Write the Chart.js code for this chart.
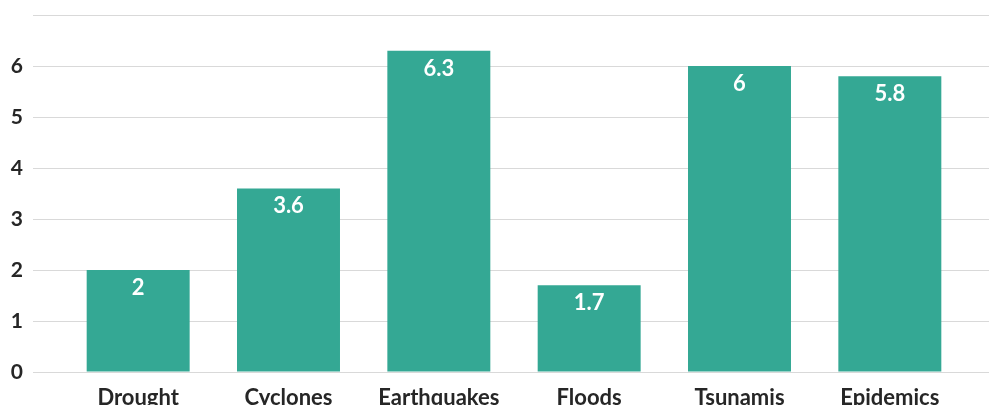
<!DOCTYPE html>
<html>
<head>
<meta charset="utf-8">
<script src="https://cdn.jsdelivr.net/npm/chart.js@4/dist/chart.umd.min.js"></script>
<style>
  html, body { margin: 0; padding: 0; background: #ffffff; }
  #wrap { width: 989px; height: 405px; position: relative; }
</style>
</head>
<body>
<div id="wrap"><canvas id="chart"></canvas></div>
<script>
// Disaster categories and their values
const categories = ['Drought', 'Cyclones', 'Earthquakes', 'Floods', 'Tsunamis', 'Epidemics'];
const values = [2, 3.6, 6.3, 1.7, 6, 5.8];
const yTicks = [0, 1, 2, 3, 4, 5, 6];

const BAR_COLOR = '#34a894';
const GRID_COLOR = '#d9d9d9';
const TEXT_COLOR = '#262626';
const FONT = 'Lato, "Open Sans", sans-serif';

// White value labels inside the top of each bar
const valueLabels = {
  id: 'valueLabels',
  afterDatasetsDraw(chart) {
    const ctx = chart.ctx;
    const meta = chart.getDatasetMeta(0);
    ctx.save();
    ctx.fillStyle = '#ffffff';
    ctx.font = 'bold 22px ' + FONT;
    ctx.textAlign = 'center';
    ctx.textBaseline = 'top';
    meta.data.forEach((bar, i) => {
      ctx.fillText(String(values[i]), bar.x, bar.y + 7);
    });
    ctx.restore();
  }
};

// Vertical axes keep no extra padding above/below the plot
function fixVerticalPadding(scale, width) {
  scale.width = width;
  scale.paddingTop = 0;
  scale.paddingBottom = 0;
}

new Chart(document.getElementById('chart'), {
  type: 'bar',
  data: {
    labels: categories,
    datasets: [{
      data: values,
      backgroundColor: BAR_COLOR,
      borderWidth: 0,
      barPercentage: 1,
      categoryPercentage: 0.685
    }]
  },
  options: {
    responsive: true,
    maintainAspectRatio: false,
    animation: false,
    layout: { padding: { left: 0, right: 0, top: 15, bottom: 0 } },
    plugins: {
      legend: { display: false },
      tooltip: { enabled: false }
    },
    scales: {
      x: {
        grid: { display: false },
        border: { display: false },
        ticks: {
          color: TEXT_COLOR,
          font: { family: FONT, size: 22, weight: 'bold' },
          padding: 5,
          maxRotation: 0
        },
        afterFit(scale) {
          scale.height = 33;
          scale.paddingLeft = 0;
          scale.paddingRight = 0;
        }
      },
      y: {
        min: 0,
        max: 7,
        afterBuildTicks(scale) {
          scale.ticks = yTicks.concat([7]).map(v => ({ value: v }));
        },
        grid: {
          color: GRID_COLOR,
          lineWidth: 1,
          drawTicks: true,
          tickLength: 30,
          tickColor: GRID_COLOR
        },
        border: { display: false },
        ticks: {
          color: TEXT_COLOR,
          font: { family: FONT, size: 21, weight: 'bold' },
          padding: 10,
          callback: v => (yTicks.includes(v) ? String(v) : '')
        },
        afterFit(scale) { fixVerticalPadding(scale, 63); }
      },
      y2: {
        position: 'right',
        min: 0,
        max: 7,
        afterBuildTicks(scale) {
          scale.ticks = yTicks.concat([7]).map(v => ({ value: v }));
        },
        grid: {
          drawOnChartArea: false,
          drawTicks: true,
          tickLength: 24,
          tickColor: GRID_COLOR,
          lineWidth: 1
        },
        border: { display: false },
        ticks: { display: false },
        afterFit(scale) { fixVerticalPadding(scale, 24); }
      }
    }
  },
  plugins: [valueLabels]
});
</script>
</body>
</html>
